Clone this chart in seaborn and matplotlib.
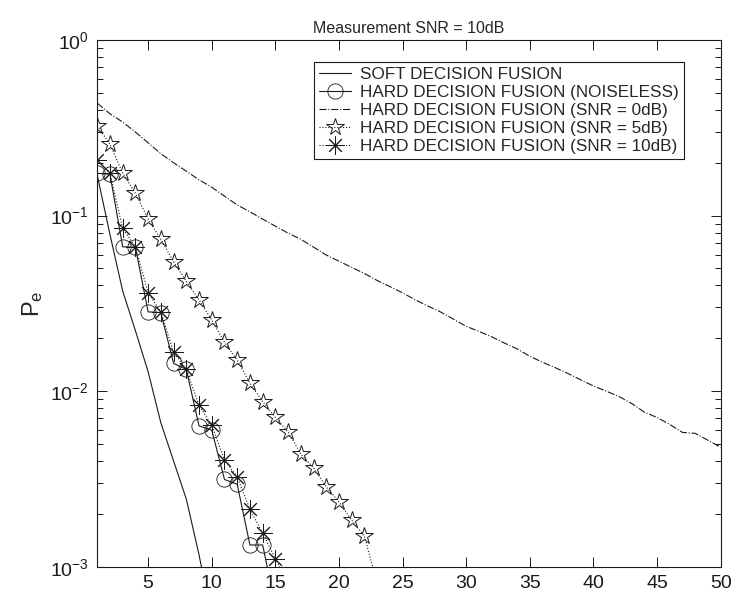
import numpy as np
import pandas as pd
import matplotlib
matplotlib.use("Agg")
import matplotlib.pyplot as plt
import seaborn as sns

# ---- data ----
n_soft = [1, 2, 3, 4, 5, 6, 7, 8, 9, 10]
pe_soft = [0.17, 0.078, 0.0372, 0.0221, 0.0129, 0.0066, 0.0040, 0.00243, 0.00117, 0.0005]

n_noiseless = [1, 2, 3, 4, 5, 6, 7, 8, 9, 10, 11, 12, 13, 14, 15]
pe_noiseless = [0.174, 0.172, 0.0664, 0.0660, 0.0283, 0.0280, 0.0144, 0.0133,
                0.00634, 0.0060, 0.00314, 0.00295, 0.00133, 0.00133, 0.0006]

n_snr0 = list(range(1, 51))
pe_snr0 = [0.437, 0.380, 0.341, 0.299, 0.260, 0.225, 0.200, 0.179, 0.160, 0.145,
           0.129, 0.115, 0.105, 0.0955, 0.0871, 0.0794, 0.0733, 0.0661, 0.0596, 0.0550,
           0.0507, 0.0468, 0.0427, 0.0394, 0.0363, 0.0331, 0.0305, 0.0282, 0.0257, 0.0234,
           0.0219, 0.0204, 0.0188, 0.0174, 0.0158, 0.0146, 0.0136, 0.0126, 0.0116, 0.0107,
           0.0100, 0.00933, 0.00851, 0.00759, 0.00708, 0.00646, 0.00582, 0.00575, 0.00525, 0.00479]

n_snr5 = list(range(1, 24))
pe_snr5 = [0.324, 0.255, 0.174, 0.134, 0.0955, 0.0731, 0.0546, 0.0422, 0.0331, 0.0254,
           0.0190, 0.0150, 0.0111, 0.00871, 0.00708, 0.00586, 0.00438, 0.00366, 0.00285,
           0.00234, 0.00184, 0.00149, 0.0008]

n_snr10 = list(range(1, 17))
pe_snr10 = [0.207, 0.174, 0.0845, 0.0664, 0.0363, 0.0282, 0.0167, 0.0133, 0.00832,
            0.00638, 0.00405, 0.00325, 0.00212, 0.00155, 0.00111, 0.0008]

labels = ["SOFT DECISION FUSION",
          "HARD DECISION FUSION (NOISELESS)",
          "HARD DECISION FUSION (SNR = 0dB)",
          "HARD DECISION FUSION (SNR = 5dB)",
          "HARD DECISION FUSION (SNR = 10dB)"]
title = "Measurement SNR = 10dB"
xticks = [5, 10, 15, 20, 25, 30, 35, 40, 45, 50]

# ---- style ----
sns.set_theme(style="ticks")
plt.rcParams["font.family"] = ["Liberation Sans", "DejaVu Sans"]
plt.rcParams["mathtext.fontset"] = "custom"
plt.rcParams["mathtext.rm"] = "Liberation Sans"
plt.rcParams["mathtext.it"] = "Liberation Sans"
plt.rcParams["mathtext.default"] = "regular"

fig = plt.figure(figsize=(7.48, 5.92), dpi=100)
ax = fig.add_axes([0.130, 0.0427, 0.8335, 0.8897])

lw = 0.8
sns.lineplot(x=n_soft, y=pe_soft, ax=ax, color="k", linewidth=lw, linestyle="-",
             label=labels[0])
sns.lineplot(x=n_noiseless, y=pe_noiseless, ax=ax, color="k", linewidth=lw, linestyle="-",
             marker="o", markersize=11, markerfacecolor="none", markeredgecolor="k",
             markeredgewidth=0.6, label=labels[1])
sns.lineplot(x=n_snr0, y=pe_snr0, ax=ax, color="k", linewidth=lw, linestyle="-.",
             label=labels[2])
sns.lineplot(x=n_snr5, y=pe_snr5, ax=ax, color="k", linewidth=lw, linestyle=":",
             marker="*", markersize=13, markerfacecolor="none", markeredgecolor="k",
             markeredgewidth=0.7, label=labels[3])
sns.lineplot(x=n_snr10, y=pe_snr10, ax=ax, color="k", linewidth=lw, linestyle=":",
             marker=(8, 2, 0), markersize=13, markeredgecolor="k",
             markeredgewidth=0.7, label=labels[4])

ax.set_yscale("log")
ax.set_xlim(1, 50)
ax.set_ylim(1e-3, 1)
ax.set_xticks(xticks)
ax.set_xticklabels([str(t) for t in xticks])
ax.tick_params(axis="both", which="both", direction="in", top=True, right=True,
               labelsize=14, colors="k", width=0.7)
ax.tick_params(axis="both", which="major", length=7, pad=6)
ax.tick_params(axis="y", which="minor", length=4)
for s in ax.spines.values():
    s.set_linewidth(0.8)
    s.set_color("k")

ax.set_title(title, fontsize=11.5, pad=5)
ax.set_ylabel(r"P$_{\rm e}$", fontsize=17, labelpad=4)
ax.set_xlabel("")

leg = ax.legend(loc="upper right", bbox_to_anchor=(0.941, 0.959), fontsize=12.3,
                frameon=True, fancybox=False, edgecolor="k", framealpha=1,
                handlelength=1.9, labelspacing=0.18, borderpad=0.3, handletextpad=0.5,
                borderaxespad=0)
leg.get_frame().set_linewidth(0.8)

fig.savefig("out.png", dpi=100)
